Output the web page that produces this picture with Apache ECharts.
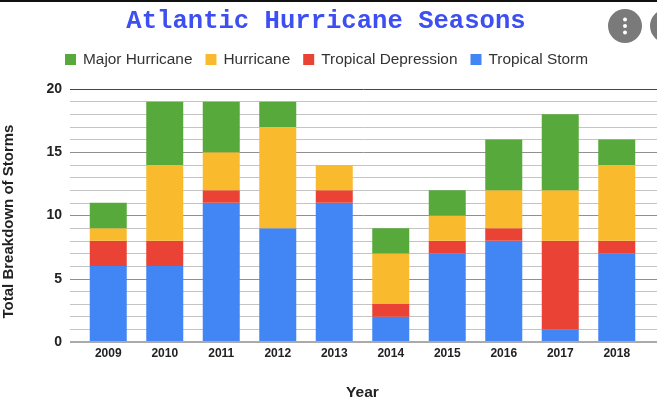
<!DOCTYPE html>
<html><head><meta charset="utf-8">
<style>html,body{margin:0;padding:0;background:#fff}#c{width:657px;height:407px}</style>
<script src="https://cdn.jsdelivr.net/npm/echarts@6/dist/echarts.min.js"></script>
</head><body><div id="c"></div>
<script>
const years = ['2009','2010','2011','2012','2013','2014','2015','2016','2017','2018'];
const tropicalStorm = [6,6,11,9,11,2,7,8,1,7];
const tropicalDepression = [2,2,1,0,1,1,1,1,7,1];
const hurricane = [1,6,3,8,2,4,2,3,4,6];
const majorHurricane = [2,5,4,2,0,2,2,4,6,2];
const sans = '"Liberation Sans", Arial, sans-serif';
const mk = (name, data, color) => ({name, type:'bar', stack:'s', data, xAxisIndex:1, yAxisIndex:1,
  barWidth:37, itemStyle:{color}, emphasis:{disabled:true}});
const chart = echarts.init(document.getElementById('c'), null, {renderer:'canvas'});
chart.setOption({
  animation:false,
  backgroundColor:'#fff',
  title:{text:'Atlantic Hurricane Seasons', left:321, top:4, textAlign:'center',
    textStyle:{fontFamily:'"Liberation Mono", monospace', fontWeight:'bold', fontSize:25.6, color:'#3d4ff0'}},
  legend:{top:47, left:60, itemWidth:11, itemHeight:11, itemGap:13, icon:'rect',
    data:['Major Hurricane','Hurricane','Tropical Depression','Tropical Storm'],
    textStyle:{fontFamily:sans, fontSize:15.4, color:'#333', padding:[0,0,0,2]}},
  grid:[
    {left:70, right:0, top:89, height:253, outerBoundsMode:'none'},
    {left:80, width:565, top:89, height:253, outerBoundsMode:'none'}
  ],
  xAxis:[
    {gridIndex:0, type:'value', min:0, max:1, show:false},
    {gridIndex:1, type:'category', data:years, name:'Year', nameLocation:'middle', nameGap:43,
     nameTextStyle:{fontFamily:sans, fontWeight:'bold', fontSize:15.5, color:'#222'},
     axisLine:{show:false}, axisTick:{show:false},
     axisLabel:{fontFamily:sans, fontWeight:'bold', fontSize:12, color:'#222', margin:6}}
  ],
  yAxis:[
    {gridIndex:0, type:'value', min:0, max:20, interval:5,
     name:'Total Breakdown of Storms', nameLocation:'middle', nameGap:54,
     nameTextStyle:{fontFamily:sans, fontWeight:'bold', fontSize:15, color:'#222', padding:[0,12,0,0]},
     axisLine:{show:false}, axisTick:{show:false},
     axisLabel:{fontFamily:sans, fontWeight:'bold', fontSize:14, color:'#222', margin:8},
     splitLine:{show:true, lineStyle:{color:['#aaa','#909090','#909090','#909090','#444'], width:1}},
     minorTick:{show:false, splitNumber:5},
     minorSplitLine:{show:true, lineStyle:{color:'#c4c4c4', width:1}}},
    {gridIndex:1, type:'value', min:0, max:20, interval:5, show:false, splitLine:{show:false}}
  ],
  series:[
    {type:'line', xAxisIndex:0, yAxisIndex:0, data:[], silent:true,
     markLine:{silent:true, symbol:'none', label:{show:false}, lineStyle:{color:'#aaa', width:2, type:'solid'},
       data:[{yAxis:0}]}},
    mk('Tropical Storm', tropicalStorm, '#4285f4'),
    mk('Tropical Depression', tropicalDepression, '#ea4335'),
    mk('Hurricane', hurricane, '#f9bb2d'),
    mk('Major Hurricane', majorHurricane, '#57a93b')
  ],
  graphic:[
    {type:'rect', shape:{x:0,y:0,width:657,height:2}, style:{fill:'#111'}},
    {type:'circle', shape:{cx:625,cy:26,r:17}, style:{fill:'#7a7a7a'}},
    {type:'circle', shape:{cx:667,cy:26,r:17}, style:{fill:'#7a7a7a'}},
    {type:'circle', shape:{cx:625,cy:19.5,r:2}, style:{fill:'#fff'}},
    {type:'circle', shape:{cx:625,cy:26,r:2}, style:{fill:'#fff'}},
    {type:'circle', shape:{cx:625,cy:32.5,r:2}, style:{fill:'#fff'}}
  ]
});
</script></body></html>
